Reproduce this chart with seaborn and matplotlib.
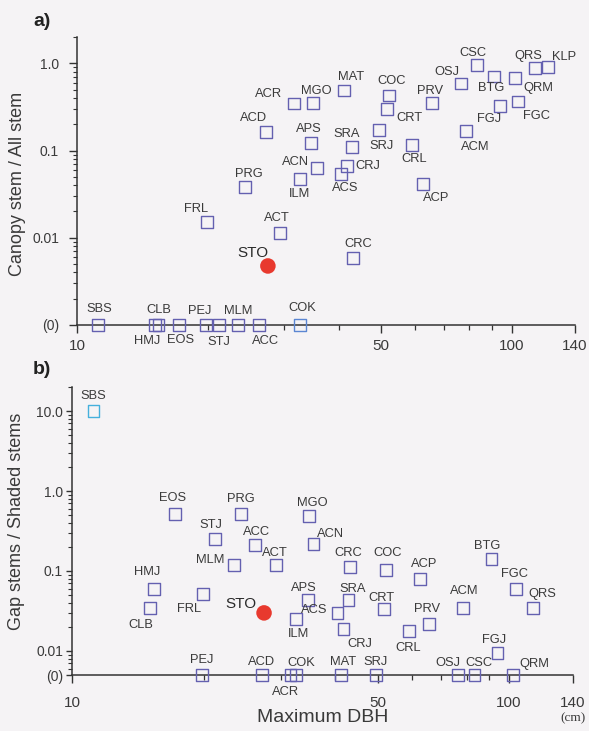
import matplotlib
matplotlib.use("Agg")
import matplotlib.pyplot as plt
import matplotlib.ticker as mticker
import numpy as np
import pandas as pd
import seaborn as sns

# Species codes and their maximum DBH (cm)
species = ["ACR", "ACD", "PRG", "MGO", "MAT", "COC", "CRT", "PRV", "OSJ", "CSC",
           "BTG", "QRM", "QRS", "KLP", "FGJ", "FGC", "APS", "SRA", "SRJ", "CRL",
           "ACM", "ACN", "CRJ", "ACS", "ILM", "ACP", "FRL", "ACT", "CRC", "SBS",
           "CLB", "HMJ", "EOS", "PEJ", "STJ", "MLM", "ACC", "COK"]
max_dbh = [31.6, 27.2, 24.4, 34.9, 41.2, 52.2, 51.7, 65.6, 76.5, 83.3,
           91.1, 101.9, 113.3, 121.3, 94.1, 103.5, 34.6, 42.9, 49.5, 59.0,
           78.5, 35.7, 41.8, 40.5, 32.6, 62.6, 19.9, 29.3, 43.2, 11.2,
           15.1, 15.4, 17.2, 19.8, 21.2, 23.5, 26.2, 32.6]

# a) canopy stems / all stems  (0 = none)
canopy_ratio = [0.345, 0.164, 0.038, 0.354, 0.487, 0.427, 0.302, 0.354, 0.587, 0.948,
                0.707, 0.671, 0.875, 0.899, 0.327, 0.364, 0.122, 0.110, 0.173, 0.116,
                0.168, 0.063, 0.066, 0.054, 0.047, 0.041, 0.015, 0.0114, 0.0059, 0,
                0, 0, 0, 0, 0, 0, 0, 0]

# b) gap stems / shaded stems  (0 = none, nan = not shown)
gap_ratio = [0, 0, 0.516, 0.487, 0, 0.103, 0.0335, 0.0218, 0, 0,
             0.141, 0, 0.0345, np.nan, 0.0095, 0.0596, 0.0434, 0.0434, 0, 0.0178,
             0.0345, 0.218, 0.0188, 0.0299, 0.0251, 0.0794, 0.0516, 0.119, 0.112, 10.0,
             0.0345, 0.0596, 0.516, 0, 0.251, 0.119, 0.211, 0]

# the study species
sto_dbh = 27.5
sto_canopy = 0.00475
sto_gap = 0.0299

# label offsets (px right, px up) from the marker
offsets_a = {
    "ACR": (-26, 10), "ACD": (-12, 14), "PRG": (4, 13), "MGO": (3, 12), "MAT": (7, 14),
    "COC": (3, 15), "CRT": (22, -9), "PRV": (-2, 12), "OSJ": (-14, 11), "CSC": (-4, 12),
    "BTG": (-3, -12), "QRM": (23, -10), "QRS": (-7, 12), "KLP": (16, 10), "FGJ": (-11, -13),
    "FGC": (19, -14), "APS": (-2, 14), "SRA": (-5, 13), "SRJ": (3, -16), "CRL": (2, -14),
    "ACM": (9, -16), "ACN": (-22, 6), "CRJ": (21, 0), "ACS": (4, -14), "ILM": (0, -15),
    "ACP": (13, -14), "FRL": (-11, 13), "ACT": (-3, 15), "CRC": (5, 14), "SBS": (1, 16),
    "CLB": (4, 15), "HMJ": (-11, -16), "EOS": (1, -15), "PEJ": (-6, 14), "STJ": (0, -17),
    "MLM": (0, 14), "ACC": (7, -16), "COK": (2, 17), "STO": (-15, 13),
}
offsets_b = {
    "SBS": (0, 15), "EOS": (-2, 16), "PRG": (0, 15), "STJ": (-4, 14), "ACC": (2, 13),
    "MGO": (3, 13), "ACN": (17, 10), "MLM": (-24, 5), "ACT": (-1, 12), "HMJ": (-7, 17),
    "CLB": (-9, -17), "FRL": (-14, -15), "STO": (-23, 9), "ILM": (2, -15), "PEJ": (0, 15),
    "ACD": (0, 13), "ACR": (-5, -17), "COK": (5, 12), "MAT": (2, 13), "SRJ": (0, 13),
    "OSJ": (-10, 12), "CSC": (5, 12), "QRM": (22, 11), "CRC": (-2, 14), "COC": (2, 17),
    "ACP": (4, 15), "BTG": (-4, 13), "FGC": (-1, 15), "QRS": (9, 14), "ACM": (1, 17),
    "APS": (-4, 12), "SRA": (4, 11), "CRT": (-2, 11), "ACS": (-23, 3), "CRJ": (16, -15),
    "PRV": (-2, 15), "CRL": (-1, -17), "FGJ": (-4, 13),
}

BG = "#f5f3f5"
SQ = "#6460b0"
TXT = "#3a3a3a"
RED = "#e8392e"

sns.set_style("ticks")
plt.rcParams["font.family"] = ["Liberation Sans", "DejaVu Sans"]
plt.rcParams["axes.edgecolor"] = "#333333"
plt.rcParams["xtick.color"] = "#333333"
plt.rcParams["ytick.color"] = "#333333"

fig = plt.figure(figsize=(5.89, 7.31), dpi=100, facecolor=BG)
ax_a = fig.add_axes([77 / 589, 1 - 325 / 731, 498 / 589, 288 / 731])
ax_b = fig.add_axes([72 / 589, 1 - 675 / 731, 501 / 589, 288 / 731])


def draw_panel(ax, ratio, zero_level, top, offsets, sto_y, light, light_color):
    y = np.array(ratio, dtype=float)
    y = np.where(y == 0, zero_level, y)
    df = pd.DataFrame({"species": species, "dbh": max_dbh, "ratio": y}).dropna()

    ax.set_facecolor(BG)
    ax.set_xscale("log")
    ax.set_yscale("log")

    plain = df[df.species != light]
    odd = df[df.species == light]
    sns.scatterplot(data=plain, x="dbh", y="ratio", marker="s", s=72,
                    color=SQ, facecolor="none", edgecolor=SQ, linewidth=1.0,
                    clip_on=False, zorder=3, ax=ax)
    sns.scatterplot(data=odd, x="dbh", y="ratio", marker="s", s=72,
                    color=light_color, facecolor="none", edgecolor=light_color,
                    linewidth=1.0, clip_on=False, zorder=3, ax=ax)
    sns.scatterplot(x=[sto_dbh], y=[sto_y], marker="o", s=125, color=RED,
                    edgecolor="none", clip_on=False, zorder=4, ax=ax)

    for _, row in df.iterrows():
        dx, dy = offsets[row.species]
        ax.annotate(row.species, (row.dbh, row.ratio), xytext=(dx * 0.72, dy * 0.72),
                    textcoords="offset points", ha="center", va="center",
                    fontsize=9.3, color=TXT, annotation_clip=False)
    dx, dy = offsets["STO"]
    ax.annotate("STO", (sto_dbh, sto_y), xytext=(dx * 0.72, dy * 0.72),
                textcoords="offset points", ha="center", va="center",
                fontsize=11, color="#2a2a2a", annotation_clip=False)

    ax.set_xlim(10, 140)
    ax.set_ylim(zero_level, top)
    ax.xaxis.set_major_locator(mticker.FixedLocator([10, 50, 100, 140]))
    ax.xaxis.set_major_formatter(mticker.FixedFormatter(["10", "50", "100", "140"]))
    ax.xaxis.set_minor_locator(mticker.FixedLocator([20, 30, 40, 60, 70, 80, 90]))
    ax.xaxis.set_minor_formatter(mticker.NullFormatter())
    ax.yaxis.set_minor_locator(mticker.LogLocator(base=10, subs=np.arange(2, 10), numticks=20))
    ax.yaxis.set_minor_formatter(mticker.NullFormatter())
    ax.set_xlabel("")
    ax.set_ylabel("")
    sns.despine(ax=ax)
    for side in ["left", "bottom"]:
        ax.spines[side].set_linewidth(1.1)
    ax.tick_params(axis="x", which="major", length=6, width=1.0, labelsize=11, labelcolor=TXT)
    ax.tick_params(axis="x", which="minor", length=3.5, width=0.9)
    ax.tick_params(axis="y", which="major", length=6, width=1.0, labelsize=10, labelcolor=TXT)
    ax.tick_params(axis="y", which="minor", length=3, width=0.8)


draw_panel(ax_a, canopy_ratio, 0.001, 2.0, offsets_a, sto_canopy, "COK", "#5b86d2")
ax_a.yaxis.set_major_locator(mticker.FixedLocator([0.001, 0.01, 0.1, 1.0]))
ax_a.yaxis.set_major_formatter(mticker.FixedFormatter(["(0)", "0.01", "0.1", "1.0"]))
ax_a.tick_params(axis="y", which="major", pad=7)
ax_a.tick_params(axis="x", which="major", pad=4)
ax_a.set_ylabel("Canopy stem / All stem", fontsize=13, color=TXT)
ax_a.yaxis.set_label_coords(-0.102, 0.49)

draw_panel(ax_b, gap_ratio, 0.005, 20.0, offsets_b, sto_gap, "SBS", "#45b0dc")
ax_b.yaxis.set_major_locator(mticker.FixedLocator([0.005, 0.01, 0.1, 1.0, 10.0]))
ax_b.yaxis.set_major_formatter(mticker.FixedFormatter(["(0)", "0.01", "0.1", "1.0", "10.0"]))
ax_b.tick_params(axis="y", which="major", pad=2.5, length=4)
ax_b.tick_params(axis="x", which="major", pad=9)
ax_b.set_ylabel("Gap stems / Shaded stems", fontsize=13, color=TXT)
ax_b.yaxis.set_label_coords(-0.094, 0.535)

fig.text(42 / 589, 1 - 21 / 731, "a)", fontsize=14, fontweight="bold",
         color="#222222", ha="center", va="center")
fig.text(42 / 589, 1 - 370 / 731, "b)", fontsize=14, fontweight="bold",
         color="#222222", ha="center", va="center")
fig.text(323 / 589, 1 - 718 / 731, "Maximum DBH", fontsize=14, color=TXT,
         ha="center", va="center")
fig.text(573 / 589, 1 - 718 / 731, "(cm)", fontsize=9.5, family="Liberation Serif",
         color=TXT, ha="center", va="center")

fig.savefig("out.png", dpi=100, facecolor=BG)
